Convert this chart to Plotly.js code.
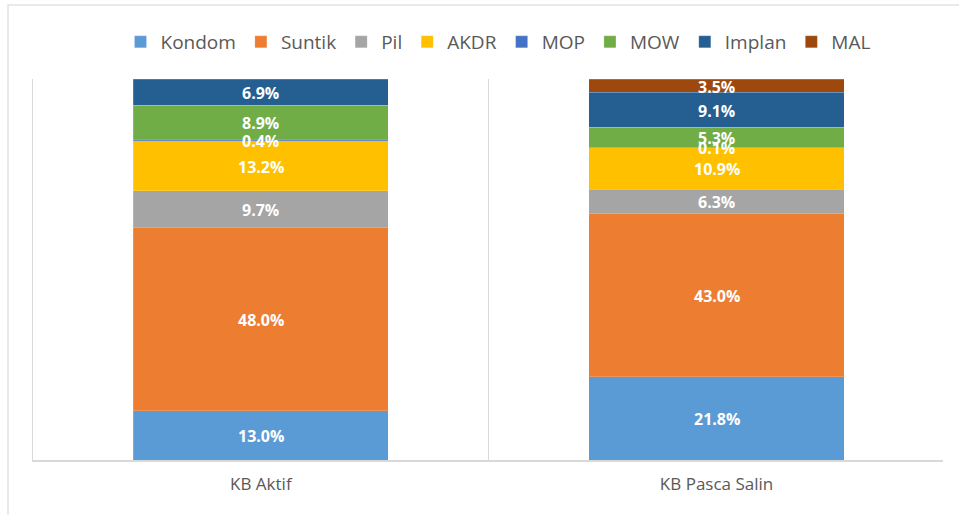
<!DOCTYPE html>
<html>
<head>
<meta charset="utf-8">
<script src="https://cdn.plot.ly/plotly-3.0.1.min.js"></script>
<style>
  html, body { margin: 0; padding: 0; background: #ffffff; }
  #chart { width: 959px; height: 515px; }
</style>
</head>
<body>
<div id="chart"></div>
<script>
// Categories
const categories = ["KB Aktif", "KB Pasca Salin"];

// Series (percent values)
const kondom = [13.0, 21.8];
const suntik = [48.0, 43.0];
const pil    = [9.7, 6.3];
const akdr   = [13.2, 10.9];
const mop    = [0.4, 0.1];
const mow    = [8.9, 5.3];
const implan = [6.9, 9.1];
const mal    = [null, 3.5];

const seriesNames = ["Kondom", "Suntik", "Pil", "AKDR", "MOP", "MOW", "Implan", "MAL"];
const seriesValues = [kondom, suntik, pil, akdr, mop, mow, implan, mal];
const seriesColors = ["#5B9BD5", "#ED7D31", "#A5A5A5", "#FFC000", "#4472C4", "#70AD47", "#255E91", "#9E480E"];

// Bars (100% stacked)
const barTraces = seriesNames.map((name, i) => ({
  type: "bar",
  name: name,
  x: categories,
  y: seriesValues[i],
  marker: { color: seriesColors[i], line: { color: "rgba(255,255,255,0.35)", width: 0.5 } },
  hoverinfo: "name+y"
}));

// Data labels drawn above all bars, placed at the normalized midpoint of each segment
const totals = categories.map((c, j) => seriesValues.reduce((s, arr) => s + (arr[j] || 0), 0));
const cum = categories.map(() => 0);
const labelAnnotations = [];
seriesNames.forEach((name, i) => {
  categories.forEach((c, j) => {
    const v = seriesValues[i][j];
    if (v === null) return;
    labelAnnotations.push({
      xref: "x", yref: "y",
      x: c,
      y: (cum[j] + v / 2) / totals[j] * 100,
      text: v.toFixed(1) + "%",
      showarrow: false,
      xanchor: "center",
      yanchor: "middle",
      yshift: -1,
      font: { family: "Open Sans", size: 16, color: "#ffffff", weight: "bold" }
    });
    cum[j] += v;
  });
});

const W = 959, H = 515;
const mL = 33, mR = 16, mT = 79, mB = 55;
const pw = W - mL - mR, ph = H - mT - mB;

const layout = {
  width: W,
  height: H,
  paper_bgcolor: "#ffffff",
  plot_bgcolor: "#ffffff",
  margin: { l: mL, r: mR, t: mT, b: mB, pad: 0 },
  barmode: "stack",
  barnorm: "percent",
  bargap: 0.44,
  font: { family: "Open Sans", color: "#595959" },
  showlegend: true,
  legend: {
    orientation: "h",
    traceorder: "normal",
    x: (498 - mL) / pw,
    xanchor: "center",
    y: (H - mB - 42) / ph,
    yanchor: "middle",
    font: { family: "Open Sans", size: 19, color: "#595959" },
    bgcolor: "rgba(0,0,0,0)"
  },
  xaxis: {
    type: "category",
    range: [-0.5, 1.497],
    tickson: "boundaries",
    showgrid: true,
    gridcolor: "#d9d9d9",
    gridwidth: 1.5,
    showline: true,
    linecolor: "#d9d9d9",
    linewidth: 1.5,
    ticks: "",
    ticklabelstandoff: 8,
    tickfont: { family: "Open Sans", size: 17, color: "#595959" },
    zeroline: false,
    fixedrange: true
  },
  yaxis: {
    range: [0, 100],
    showgrid: false,
    showline: true,
    linecolor: "#d9d9d9",
    linewidth: 1.5,
    showticklabels: false,
    ticks: "",
    zeroline: false,
    fixedrange: true
  },
  annotations: labelAnnotations,
  shapes: [
    {
      type: "rect",
      xref: "paper", yref: "paper",
      x0: (8 - mL) / pw, x1: (W + 10 - mL) / pw,
      y0: (H - mB - (H + 10)) / ph, y1: (H - mB - 5) / ph,
      line: { color: "#e3e3e3", width: 1.5 },
      fillcolor: "rgba(0,0,0,0)",
      layer: "below"
    }
  ]
};

Plotly.newPlot("chart", barTraces, layout, { displayModeBar: false, staticPlot: true });
</script>
</body>
</html>
